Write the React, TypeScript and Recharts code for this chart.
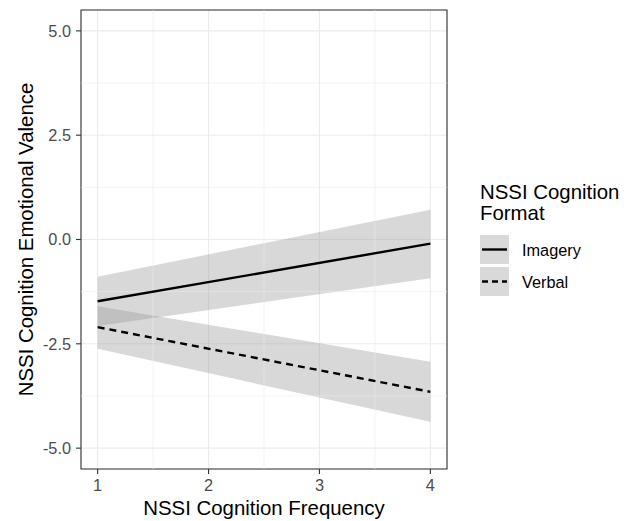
import React from "react";
import {
  ComposedChart,
  Area,
  Line,
  XAxis,
  YAxis,
  CartesianGrid,
  ReferenceLine,
  ReferenceArea,
  Label,
} from "recharts";

// ---- data ----
const frequency = [1, 4];
const imageryFit = [-1.48, -0.1];
const imageryLower = [-2.07, -0.93];
const imageryUpper = [-0.89, 0.71];
const verbalFit = [-2.1, -3.65];
const verbalLower = [-2.62, -4.37];
const verbalUpper = [-1.6, -2.93];

const xTicks = [1, 2, 3, 4];
const yTicks = [-5, -2.5, 0, 2.5, 5];
const xMinor = [1.5, 2.5, 3.5];
const yMinor = [-3.75, -1.25, 1.25, 3.75];
const xDomain = [0.85, 4.15];
const yDomain = [-5.5, 5.5];

const groups = ["Imagery", "Verbal"];
const legendTitle = ["NSSI Cognition", "Format"];
const xTitle = "NSSI Cognition Frequency";
const yTitle = "NSSI Cognition Emotional Valence";

const data = frequency.map((x, i) => ({
  x,
  imagery: imageryFit[i],
  imageryBand: [imageryLower[i], imageryUpper[i]],
  verbal: verbalFit[i],
  verbalBand: [verbalLower[i], verbalUpper[i]],
}));

const FONT = "'Liberation Sans', Arial, Helvetica, sans-serif";
const W = 630;
const H = 521;
const TITLE_SIZE = 20.4;
const TEXT_SIZE = 16.3;

export default function App() {
  return (
    <div style={{ position: "absolute", left: 0, top: 0, width: W, height: H, background: "#fff", fontFamily: FONT }}>
      <ComposedChart
        width={W}
        height={H}
        data={data}
        margin={{ top: 10, right: 183, bottom: 0, left: 0 }}
      >
        <CartesianGrid stroke="#ebebeb" strokeWidth={1.1} />
        {xMinor.map((v) => (
          <ReferenceLine key={"xm" + v} x={v} stroke="#ebebeb" strokeWidth={0.6} />
        ))}
        {yMinor.map((v) => (
          <ReferenceLine key={"ym" + v} y={v} stroke="#ebebeb" strokeWidth={0.6} />
        ))}
        <XAxis
          dataKey="x"
          type="number"
          domain={xDomain}
          ticks={xTicks}
          allowDataOverflow
          height={52}
          axisLine={false}
          tickSize={5}
          tickMargin={5}
          tickLine={{ stroke: "#333333", strokeWidth: 1.1 }}
          tick={{ fill: "#4d4d4d", fontSize: TEXT_SIZE, fontFamily: FONT }}
        >
          <Label
            content={(props: any) => {
              const vb = props.viewBox || { x: 81, y: 469, width: 366, height: 52 };
              return (
                <text
                  x={vb.x + vb.width / 2}
                  y={vb.y + 46}
                  textAnchor="middle"
                  fontSize={TITLE_SIZE}
                  fill="#000"
                  fontFamily={FONT}
                >
                  {xTitle}
                </text>
              );
            }}
          />
        </XAxis>
        <YAxis
          type="number"
          domain={yDomain}
          ticks={yTicks}
          allowDataOverflow
          width={81}
          axisLine={false}
          tickSize={5}
          tickMargin={5}
          tickFormatter={(v: number) => v.toFixed(1)}
          tickLine={{ stroke: "#333333", strokeWidth: 1.1 }}
          tick={{ fill: "#4d4d4d", fontSize: TEXT_SIZE, fontFamily: FONT }}
        >
          <Label
            content={(props: any) => {
              const vb = props.viewBox || { x: 0, y: 10, width: 81, height: 459 };
              const cx = vb.x + 33;
              const cy = vb.y + vb.height / 2;
              return (
                <text
                  x={cx}
                  y={cy}
                  transform={`rotate(-90, ${cx}, ${cy})`}
                  textAnchor="middle"
                  fontSize={TITLE_SIZE}
                  fill="#000"
                  fontFamily={FONT}
                >
                  {yTitle}
                </text>
              );
            }}
          />
        </YAxis>
        <Area
          type="linear"
          dataKey="imageryBand"
          stroke="none"
          fill="#999999"
          fillOpacity={0.38}
          isAnimationActive={false}
          activeDot={false}
        />
        <Area
          type="linear"
          dataKey="verbalBand"
          stroke="none"
          fill="#999999"
          fillOpacity={0.38}
          isAnimationActive={false}
          activeDot={false}
        />
        <Line
          type="linear"
          dataKey="imagery"
          stroke="#000"
          strokeWidth={2.4}
          dot={false}
          activeDot={false}
          isAnimationActive={false}
        />
        <Line
          type="linear"
          dataKey="verbal"
          stroke="#000"
          strokeWidth={2.4}
          strokeDasharray="7 5"
          dot={false}
          activeDot={false}
          isAnimationActive={false}
        />
        <ReferenceArea
          x1={xDomain[0]}
          x2={xDomain[1]}
          y1={yDomain[0]}
          y2={yDomain[1]}
          fill="none"
          fillOpacity={0}
          stroke="#333333"
          strokeWidth={1.1}
          ifOverflow="visible"
        />
      </ComposedChart>
      <svg
        width={W}
        height={H}
        style={{ position: "absolute", left: 0, top: 0, pointerEvents: "none" }}
      >
        <text x={480} y={199.3} fontSize={TITLE_SIZE} fill="#000" fontFamily={FONT}>
          {legendTitle[0]}
        </text>
        <text x={480} y={219.5} fontSize={TITLE_SIZE} fill="#000" fontFamily={FONT}>
          {legendTitle[1]}
        </text>
        {groups.map((g, i) => {
          const top = 235 + i * 32;
          return (
            <g key={g}>
              <rect x={480} y={top} width={29} height={29} fill="#d9d9d9" />
              <line
                x1={482}
                x2={507}
                y1={top + 14.5}
                y2={top + 14.5}
                stroke="#000"
                strokeWidth={2.4}
                strokeDasharray={i === 1 ? "6 4" : undefined}
              />
              <text x={522} y={top + 21} fontSize={TEXT_SIZE} fill="#000" fontFamily={FONT}>
                {g}
              </text>
            </g>
          );
        })}
      </svg>
    </div>
  );
}
